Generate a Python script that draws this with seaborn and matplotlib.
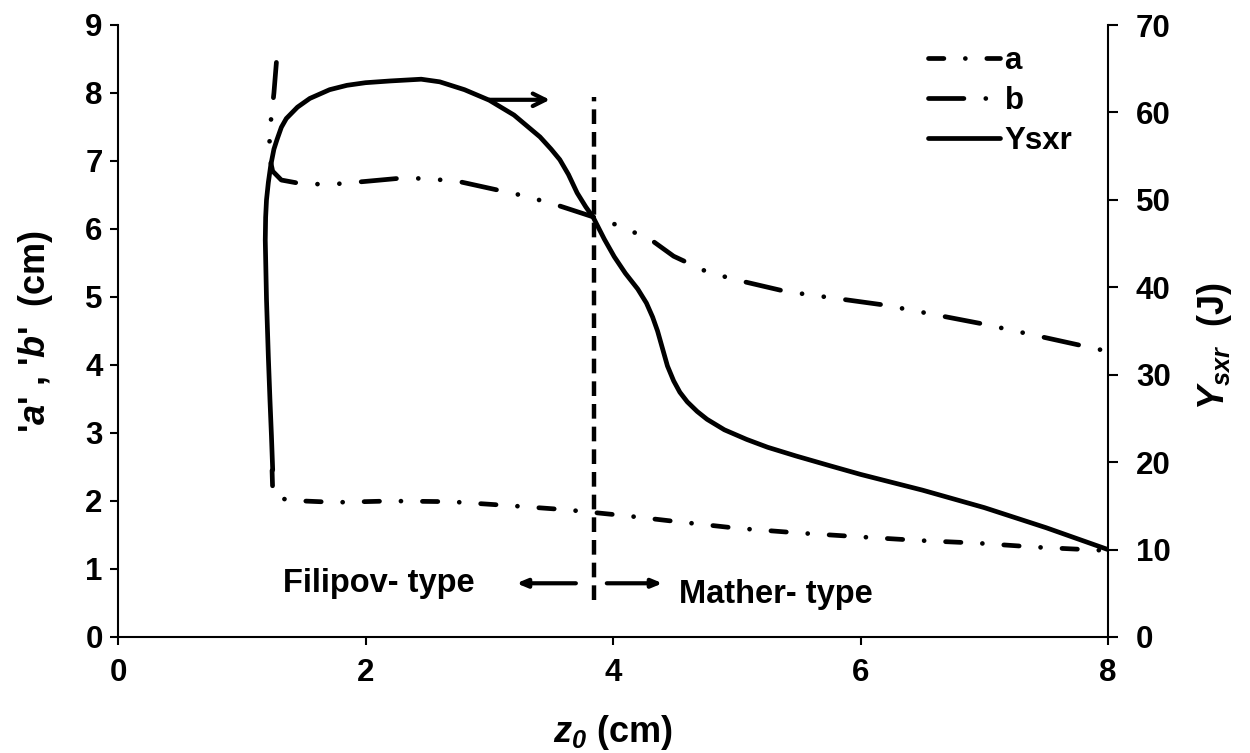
import matplotlib
matplotlib.use("Agg")
import matplotlib.pyplot as plt
import seaborn as sns

# ---------------- data ----------------
z_a = [1.245, 1.25, 1.28, 1.5, 1.76, 2.2, 2.69, 3.18, 3.63, 4.12, 4.5, 5.0, 5.5,
       6.02, 6.47, 6.95, 7.43, 8.0]
a_vals = [2.45, 2.15, 2.04, 2.0, 1.98, 2.0, 1.99, 1.93, 1.87, 1.78, 1.7, 1.6, 1.53,
          1.47, 1.42, 1.38, 1.32, 1.27]

z_b = [1.28, 1.26, 1.23, 1.22, 1.25, 1.32, 1.5, 1.75, 2.0, 2.3, 2.5, 2.75, 3.0, 3.25,
       3.5, 3.87, 4.03, 4.3, 4.49, 4.76, 5.0, 5.4, 6.2, 7.0, 7.95, 8.0]
b_vals = [8.45, 8.0, 7.5, 7.1, 6.85, 6.72, 6.66, 6.66, 6.7, 6.75, 6.74, 6.7, 6.6, 6.5,
          6.38, 6.16, 6.06, 5.85, 5.6, 5.37, 5.25, 5.08, 4.88, 4.6, 4.22, 4.2]

z_y = [1.25, 1.24, 1.228, 1.215, 1.20, 1.195, 1.19, 1.193, 1.2, 1.215, 1.235, 1.26,
       1.285, 1.32, 1.36, 1.45, 1.55, 1.71, 1.85, 2.0, 2.2, 2.45, 2.6, 2.8, 3.0, 3.2,
       3.41, 3.5, 3.57, 3.64, 3.71, 3.78, 3.84, 3.93, 4.01, 4.1, 4.2, 4.27, 4.32,
       4.36, 4.4, 4.44, 4.49, 4.54, 4.6, 4.68, 4.76, 4.9, 5.08, 5.25, 5.48, 5.75, 6.0,
       6.5, 7.0, 7.5, 8.0]
ysxr_vals = [19.1, 23.0, 27.1, 32.0, 38.6, 42.0, 45.4, 48.0, 50.0, 52.0, 54.0, 55.8,
             56.9, 58.3, 59.3, 60.6, 61.6, 62.6, 63.1, 63.4, 63.6, 63.8, 63.5, 62.6,
             61.4, 59.7, 57.2, 55.8, 54.6, 52.9, 50.8, 49.2, 48.0, 45.5, 43.5, 41.6,
             39.8, 38.2, 36.6, 35.0, 33.0, 31.0, 29.3, 28.0, 26.9, 25.8, 24.9, 23.7,
             22.6, 21.7, 20.7, 19.6, 18.6, 16.8, 14.8, 12.5, 10.0]

series_labels = ["a", "b", "Ysxr"]
x_ticks = [0, 2, 4, 6, 8]
left_ticks = [0, 1, 2, 3, 4, 5, 6, 7, 8, 9]
right_ticks = [0, 10, 20, 30, 40, 50, 60, 70]
z_boundary = 3.85
left_region = "Filipov- type"
right_region = "Mather- type"

# ---------------- style ----------------
sns.set_style("white")
plt.rcParams["font.family"] = ["Liberation Sans", "DejaVu Sans"]
plt.rcParams["font.weight"] = "bold"
plt.rcParams["mathtext.fontset"] = "custom"
plt.rcParams["mathtext.it"] = "Liberation Sans:italic:bold"
plt.rcParams["mathtext.sf"] = "Liberation Sans:italic:bold"
plt.rcParams["mathtext.rm"] = "Liberation Sans:bold"
plt.rcParams["mathtext.bf"] = "Liberation Sans:bold"
plt.rcParams["text.color"] = "black"
plt.rcParams["axes.labelcolor"] = "black"

W, H = 1250, 753
fig = plt.figure(figsize=(W / 100, H / 100), dpi=100)
x0, x1, y0, y1 = 118, 1108, 637, 25
ax = fig.add_axes([x0 / W, 1 - y0 / H, (x1 - x0) / W, (y0 - y1) / H])
ax2 = ax.twinx()

lw = 3.4
sty_a = (0, (3.26, 4.54, 0.01, 4.54))
sty_b = (0, (7.5, 4.63, 0.01, 4.63, 0.01, 4.63))

sns.lineplot(x=z_a, y=a_vals, ax=ax, sort=False, estimator=None, color="black",
             linewidth=lw, linestyle=sty_a, dash_capstyle="round",
             solid_capstyle="round", label=series_labels[0], legend=False)
sns.lineplot(x=z_b, y=b_vals, ax=ax, sort=False, estimator=None, color="black",
             linewidth=lw, linestyle=sty_b, dash_capstyle="round",
             solid_capstyle="round", label=series_labels[1], legend=False)
sns.lineplot(x=z_y, y=ysxr_vals, ax=ax2, sort=False, estimator=None, color="black",
             linewidth=lw, solid_capstyle="round", solid_joinstyle="round",
             label=series_labels[2], legend=False)

ax.set_xlim(0, 8)
ax.set_ylim(0, 9)
ax2.set_ylim(0, 70)
ax.set_xticks(x_ticks)
ax.set_yticks(left_ticks)
ax2.set_yticks(right_ticks)
ax.set_xticklabels([str(t) for t in x_ticks])
ax.set_yticklabels([str(t) for t in left_ticks])
ax2.set_yticklabels([str(t) for t in right_ticks])

for a_ in (ax, ax2):
    a_.spines["top"].set_visible(False)
    for s in a_.spines.values():
        s.set_color("black")
        s.set_linewidth(1.5)
    a_.grid(False)
ax.spines["right"].set_visible(False)
ax2.spines["left"].set_visible(False)
ax2.spines["bottom"].set_visible(False)

tick_fs = 22.5
ax.tick_params(axis="x", bottom=True, direction="out", length=6, width=1.5,
               labelsize=tick_fs, pad=9, colors="black")
ax.tick_params(axis="y", left=True, direction="out", length=6, width=1.5,
               labelsize=tick_fs, pad=5, colors="black")
ax2.tick_params(axis="y", right=True, direction="out", length=7, width=1.5,
                labelsize=tick_fs, pad=13, colors="black")

label_fs = 26
ax.set_xlabel(r"$\mathit{z}_{\mathsf{0}}$ (cm)", fontsize=label_fs, fontweight="bold")
ax.xaxis.set_label_coords(0.5, (y0 - 733) / (y0 - y1))
ax.xaxis.label.set_va("center")
ax.set_ylabel(r"'$\mathit{a}$' , '$\mathit{b}$'  (cm)", fontsize=label_fs,
              fontweight="bold")
ax.yaxis.set_label_coords((36 - x0) / (x1 - x0), 0.5)
ax.yaxis.label.set_va("center")
ax2.set_ylabel(r"$\mathit{Y_{sxr}}$  (J)", fontsize=label_fs, fontweight="bold",
               rotation=90)
ax2.yaxis.set_label_coords((1215 - x0) / (x1 - x0), 0.475)
ax2.yaxis.label.set_va("center")

# boundary and annotations
ax.vlines(z_boundary, 0.54, 7.94, colors="black", linewidth=3.2,
          linestyles=[(0, (3.3, 1.8))])
ax.annotate("", xy=(3.49, 7.9), xytext=(3.0, 7.9),
            arrowprops=dict(arrowstyle="->,head_length=0.9,head_width=0.45",
                            lw=3, color="black", shrinkA=0, shrinkB=0))
ax.annotate("", xy=(3.22, 0.79), xytext=(3.70, 0.79),
            arrowprops=dict(arrowstyle="-|>,head_length=0.6,head_width=0.25",
                            lw=3, color="black", shrinkA=0, shrinkB=0))
ax.annotate("", xy=(4.40, 0.79), xytext=(3.95, 0.79),
            arrowprops=dict(arrowstyle="-|>,head_length=0.6,head_width=0.25",
                            lw=3, color="black", shrinkA=0, shrinkB=0))
region_fs = 23.5
ax.text(2.11, 0.66, left_region, ha="center", va="baseline", fontsize=region_fs,
        fontweight="bold")
ax.text(5.32, 0.50, right_region, ha="center", va="baseline", fontsize=region_fs,
        fontweight="bold")

handles = [ax.lines[0], ax.lines[1], ax2.lines[0]]
leg = fig.legend(handles, series_labels, loc="upper left",
                 bbox_to_anchor=(928 / W, 1 - 46 / H), frameon=False,
                 fontsize=22.5, handlelength=2.3, handletextpad=0.15,
                 labelspacing=0.32, borderpad=0, borderaxespad=0)
for t in leg.get_texts():
    t.set_fontweight("bold")

fig.savefig("out.png", dpi=100)
